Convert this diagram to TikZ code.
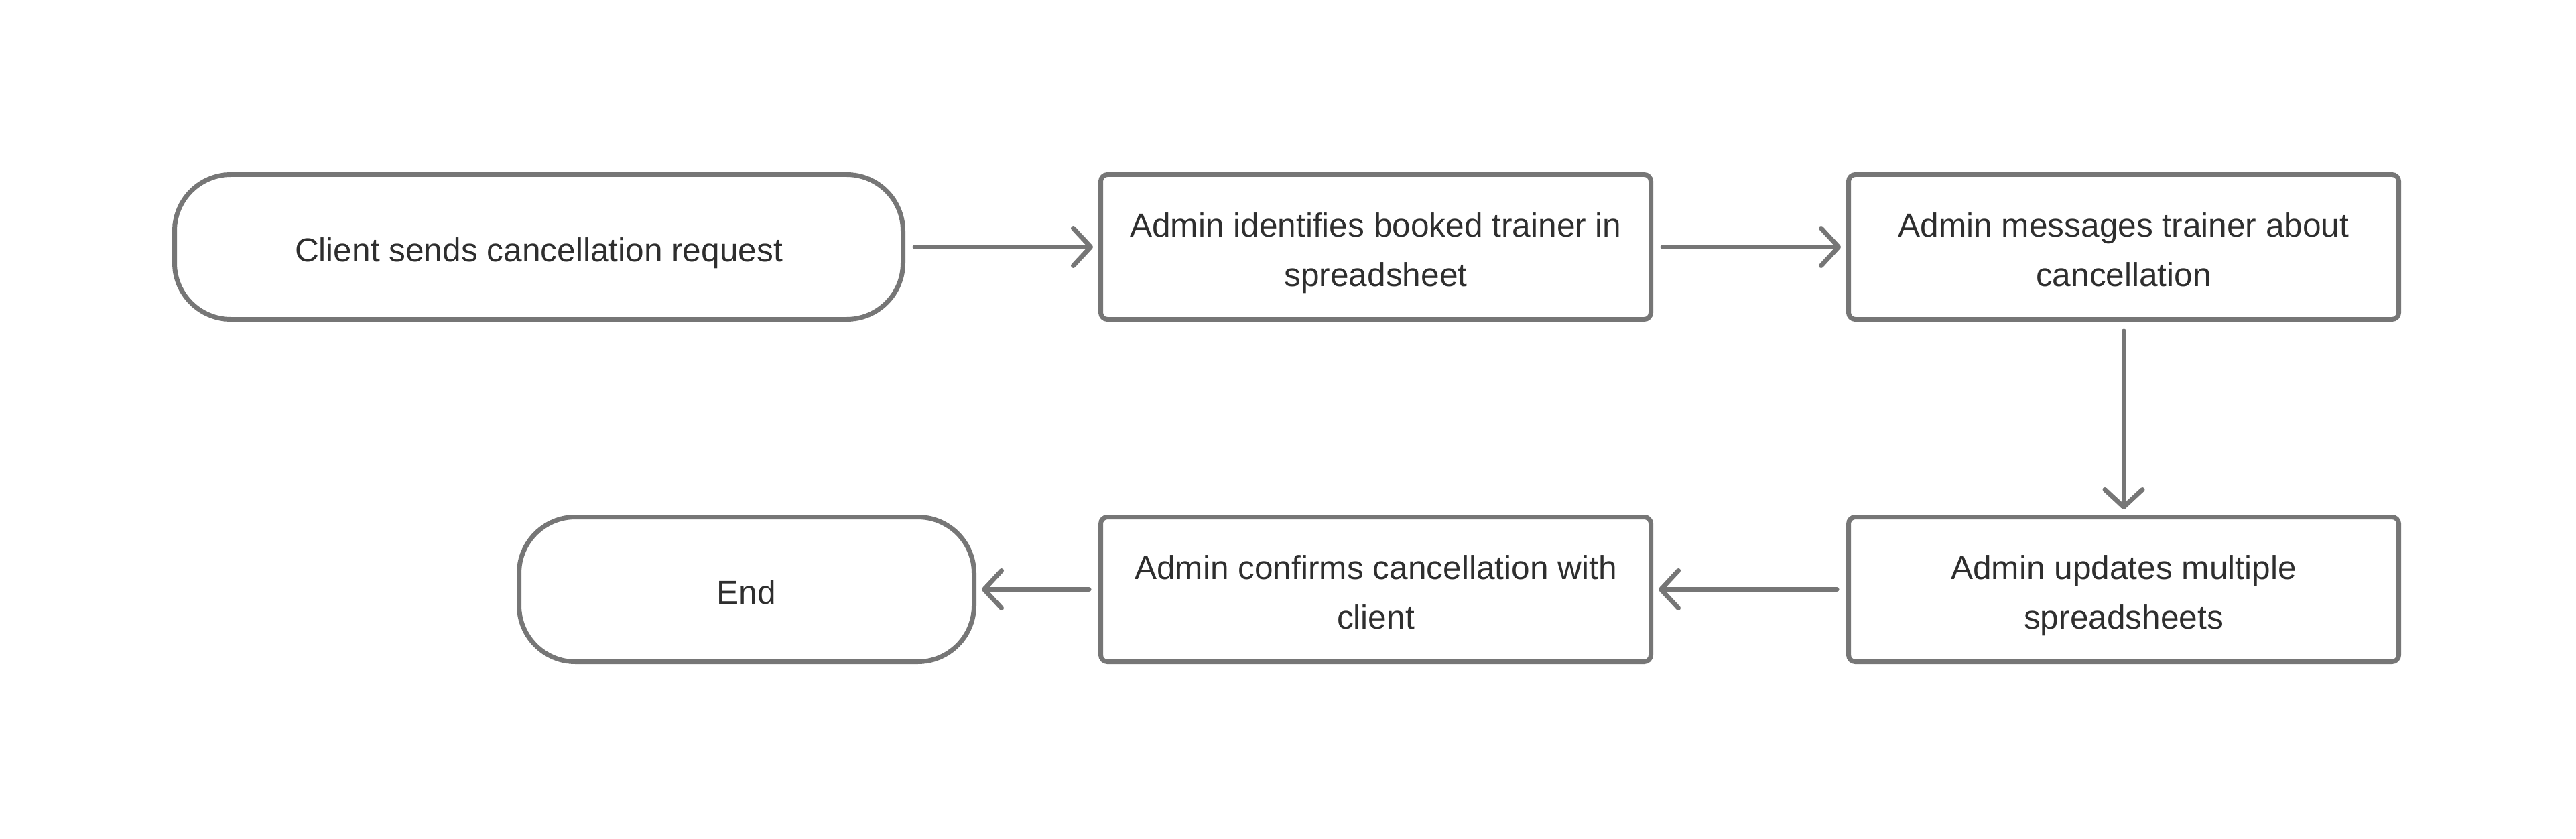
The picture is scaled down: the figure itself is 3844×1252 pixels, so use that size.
\documentclass[tikz,border=0pt]{standalone}
\usepackage{fontspec}
\setmainfont{Liberation Sans}
\usepackage{tikz}
\usetikzlibrary{arrows.meta}
\usetikzlibrary{positioning,calc}
\definecolor{linegrey}{RGB}{118,118,118}
\definecolor{textgrey}{RGB}{46,46,46}
\tikzset{
	every node/.style={font=\fontsize{12.4}{18.4}\selectfont,text=textgrey}
}
\tikzset{
	one line/.style={text height=12pt,text depth=1.1pt},
	two lines/.style={text height=30pt,text depth=0.7pt}
}
\tikzset{
	term node/.style={rectangle,rounded corners=21pt,draw=linegrey,line width=1.75pt,align=center,minimum width=271.75pt,minimum height=54pt,one line}
}
\tikzset{
	->,>={Straight Barb[length=6.5pt,width=14pt,round]},shorten >=2pt,shorten <=3.5pt,node distance=72pt,
	every edge/.style={draw=linegrey,line width=1.75pt,line cap=round},
	main node/.style={rectangle,rounded corners=2.5pt,draw=linegrey,line width=1.75pt,align=center,minimum width=205.25pt,minimum height=54pt,two lines}
}
\begin{document}
\begin{tikzpicture}[x=0.25pt,y=-0.25pt]
      \useasboundingbox (0,0) rectangle (3844,1252);
      \node[term node] (request) at (804,368.5) {Client sends cancellation request};
      \node[main node] (identify) [right = of request] {Admin identifies booked trainer in\\spreadsheet};
      \node[main node] (message) [right = of identify] {Admin messages trainer about\\cancellation};
      \node[main node] (update) [below = of message] {Admin updates multiple\\spreadsheets};
      \node[main node] (confirm) [left = of update] {Admin confirms cancellation with\\client};
      \node[term node, minimum width=169.75pt] (end) [left = 45.5pt of confirm] {End};
      \path (request) edge (identify);
      \path (identify) edge (message);
      \path (message) edge (update);
      \path (update) edge (confirm);
      \path (confirm) edge (end);
    \end{tikzpicture}
\end{document}
